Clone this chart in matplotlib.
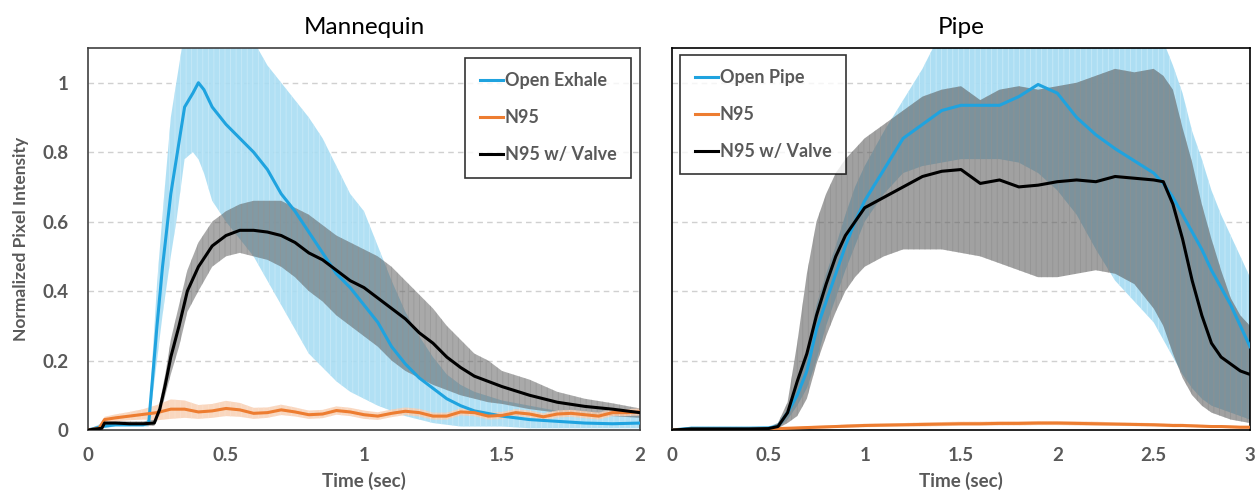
import numpy as np
import matplotlib
matplotlib.use("Agg")
import matplotlib.pyplot as plt
from matplotlib.ticker import FixedLocator

plt.rcParams['font.family'] = ['Lato', 'DejaVu Sans']
plt.rcParams['hatch.linewidth'] = 0.6

# ---------------- Mannequin (left) ----------------
t_open = [0, 0.05, 0.1, 0.15, 0.2, 0.22, 0.25, 0.27, 0.3, 0.32, 0.35, 0.38, 0.4, 0.42, 0.45,
          0.5, 0.55, 0.6, 0.65, 0.7, 0.75, 0.8, 0.85, 0.9, 0.95, 1.0, 1.05, 1.1, 1.15, 1.2,
          1.25, 1.3, 1.35, 1.4, 1.5, 1.6, 1.7, 1.8, 1.9, 2.0]
open_mean = [0, 0.01, 0.015, 0.015, 0.015, 0.02, 0.3, 0.47, 0.68, 0.78, 0.93, 0.97, 1.0, 0.98, 0.93,
             0.88, 0.84, 0.80, 0.75, 0.68, 0.63, 0.57, 0.51, 0.45, 0.41, 0.36, 0.31, 0.24, 0.19, 0.15,
             0.12, 0.09, 0.07, 0.055, 0.04, 0.03, 0.025, 0.02, 0.018, 0.02]
open_hi = [0, 0.02, 0.02, 0.02, 0.02, 0.03, 0.42, 0.62, 0.9, 1.0, 1.15, 1.15, 1.15, 1.15, 1.15,
           1.15, 1.15, 1.12, 1.05, 1.0, 0.95, 0.9, 0.84, 0.76, 0.68, 0.63, 0.53, 0.43, 0.34, 0.27,
           0.21, 0.16, 0.13, 0.11, 0.085, 0.07, 0.055, 0.05, 0.045, 0.04]
open_lo = [0, 0.005, 0.01, 0.01, 0.01, 0.01, 0.2, 0.33, 0.5, 0.6, 0.78, 0.8, 0.78, 0.74, 0.66,
           0.6, 0.55, 0.5, 0.43, 0.36, 0.29, 0.22, 0.18, 0.14, 0.11, 0.09, 0.07, 0.055, 0.04, 0.03,
           0.02, 0.015, 0.01, 0.01, 0.01, 0.005, 0.005, 0.005, 0.005, 0.005]

t_valve = [0, 0.05, 0.06, 0.1, 0.15, 0.2, 0.24, 0.26, 0.28, 0.3, 0.33, 0.36, 0.4, 0.45, 0.5,
           0.55, 0.6, 0.65, 0.7, 0.75, 0.8, 0.85, 0.9, 0.95, 1.0, 1.05, 1.1, 1.15, 1.2, 1.25,
           1.3, 1.35, 1.4, 1.45, 1.5, 1.6, 1.7, 1.8, 1.9, 2.0]
valve_mean = [0, 0.005, 0.02, 0.02, 0.018, 0.018, 0.02, 0.06, 0.13, 0.21, 0.3, 0.4, 0.47, 0.53, 0.56,
              0.575, 0.575, 0.57, 0.56, 0.54, 0.51, 0.49, 0.46, 0.43, 0.41, 0.38, 0.35, 0.32, 0.28, 0.25,
              0.21, 0.18, 0.155, 0.14, 0.125, 0.1, 0.08, 0.068, 0.06, 0.05]
valve_hi = [0, 0.005, 0.025, 0.025, 0.025, 0.025, 0.03, 0.08, 0.16, 0.26, 0.36, 0.46, 0.54, 0.6, 0.63,
            0.65, 0.66, 0.66, 0.66, 0.64, 0.62, 0.59, 0.56, 0.54, 0.52, 0.5, 0.47, 0.43, 0.39, 0.35,
            0.3, 0.26, 0.22, 0.2, 0.17, 0.145, 0.11, 0.09, 0.077, 0.062]
valve_lo = [0, 0.005, 0.015, 0.015, 0.012, 0.012, 0.012, 0.04, 0.1, 0.16, 0.24, 0.34, 0.4, 0.47, 0.5,
            0.51, 0.5, 0.49, 0.47, 0.44, 0.4, 0.37, 0.33, 0.3, 0.27, 0.24, 0.2, 0.17, 0.15, 0.13,
            0.115, 0.1, 0.09, 0.08, 0.075, 0.06, 0.05, 0.045, 0.04, 0.035]

t_n95 = [0, 0.04, 0.06, 0.1, 0.15, 0.2, 0.25, 0.3, 0.35, 0.4, 0.45, 0.5, 0.55, 0.6, 0.65, 0.7,
         0.75, 0.8, 0.85, 0.9, 0.95, 1.0, 1.05, 1.1, 1.15, 1.2, 1.25, 1.3, 1.35, 1.4, 1.45, 1.5,
         1.55, 1.6, 1.65, 1.7, 1.75, 1.8, 1.85, 1.9, 1.95, 2.0]
n95_mean = [0, 0.005, 0.03, 0.035, 0.04, 0.045, 0.05, 0.06, 0.06, 0.052, 0.055, 0.062, 0.058, 0.048, 0.05, 0.058,
            0.052, 0.044, 0.046, 0.056, 0.052, 0.044, 0.04, 0.048, 0.054, 0.05, 0.04, 0.04, 0.052, 0.05, 0.04, 0.042,
            0.05, 0.046, 0.038, 0.046, 0.048, 0.044, 0.04, 0.05, 0.05, 0.052]
n95_sd = [0, 0.003, 0.008, 0.01, 0.012, 0.015, 0.022, 0.028, 0.025, 0.02, 0.02, 0.022, 0.02, 0.016, 0.015, 0.015,
          0.013, 0.012, 0.012, 0.012, 0.012, 0.012, 0.011, 0.011, 0.011, 0.011, 0.01, 0.01, 0.01, 0.01, 0.01, 0.01,
          0.01, 0.01, 0.01, 0.01, 0.01, 0.01, 0.01, 0.01, 0.01, 0.01]

# ---------------- Pipe (right) ----------------
t_pipe = [0, 0.1, 0.2, 0.3, 0.4, 0.5, 0.55, 0.6, 0.65, 0.7, 0.75, 0.8, 0.85, 0.9, 0.95, 1.0,
          1.1, 1.2, 1.3, 1.4, 1.5, 1.6, 1.7, 1.8, 1.9, 2.0, 2.1, 2.2, 2.3, 2.4, 2.5,
          2.55, 2.6, 2.65, 2.7, 2.75, 2.8, 2.85, 2.9, 2.95, 3.0]
pipe_mean = [0, 0.005, 0.005, 0.005, 0.005, 0.006, 0.01, 0.05, 0.1, 0.17, 0.29, 0.37, 0.45, 0.53, 0.6, 0.66,
             0.75, 0.84, 0.88, 0.92, 0.935, 0.935, 0.935, 0.96, 0.995, 0.97, 0.9, 0.85, 0.81, 0.775, 0.74,
             0.71, 0.67, 0.62, 0.57, 0.52, 0.46, 0.41, 0.36, 0.3, 0.24]
pipe_hi = [0, 0.01, 0.01, 0.01, 0.01, 0.01, 0.02, 0.06, 0.14, 0.22, 0.36, 0.45, 0.53, 0.62, 0.7, 0.76,
           0.86, 0.95, 1.04, 1.15, 1.15, 1.15, 1.15, 1.15, 1.15, 1.15, 1.15, 1.15, 1.15, 1.15, 1.15,
           1.12, 1.05, 0.97, 0.86, 0.78, 0.69, 0.62, 0.56, 0.5, 0.44]
pipe_lo = [0, 0.0, 0.0, 0.0, 0.0, 0.002, 0.005, 0.03, 0.07, 0.12, 0.2, 0.3, 0.38, 0.46, 0.53, 0.6,
           0.68, 0.74, 0.76, 0.77, 0.78, 0.78, 0.78, 0.77, 0.74, 0.69, 0.62, 0.52, 0.43, 0.37, 0.31,
           0.26, 0.21, 0.16, 0.12, 0.09, 0.07, 0.06, 0.05, 0.04, 0.03]

pvalve_mean = [0, 0.003, 0.003, 0.003, 0.003, 0.004, 0.01, 0.05, 0.14, 0.22, 0.33, 0.42, 0.5, 0.56, 0.6, 0.64,
               0.67, 0.7, 0.73, 0.745, 0.75, 0.71, 0.72, 0.7, 0.705, 0.715, 0.72, 0.715, 0.73, 0.725, 0.72,
               0.715, 0.65, 0.55, 0.43, 0.33, 0.25, 0.21, 0.19, 0.17, 0.16]
pvalve_hi = [0, 0.005, 0.005, 0.005, 0.005, 0.006, 0.02, 0.08, 0.25, 0.45, 0.6, 0.68, 0.74, 0.78, 0.81, 0.84,
             0.88, 0.92, 0.96, 0.98, 0.99, 0.95, 0.98, 0.99, 0.98, 0.99, 1.0, 1.02, 1.04, 1.03, 1.04,
             1.02, 0.98, 0.87, 0.77, 0.65, 0.55, 0.46, 0.38, 0.33, 0.3]
pvalve_lo = [0, 0.001, 0.001, 0.001, 0.001, 0.002, 0.005, 0.02, 0.04, 0.09, 0.19, 0.27, 0.34, 0.4, 0.44, 0.47,
             0.5, 0.52, 0.52, 0.52, 0.51, 0.5, 0.48, 0.46, 0.44, 0.44, 0.45, 0.46, 0.45, 0.42, 0.35,
             0.3, 0.22, 0.15, 0.1, 0.07, 0.05, 0.04, 0.03, 0.025, 0.02]

pn95_mean = [0, 0.002, 0.002, 0.002, 0.002, 0.003, 0.004, 0.005, 0.006, 0.007, 0.008, 0.009, 0.01, 0.011, 0.012, 0.013,
             0.014, 0.015, 0.016, 0.017, 0.018, 0.018, 0.019, 0.019, 0.02, 0.02, 0.019, 0.018, 0.017, 0.016, 0.015,
             0.014, 0.013, 0.013, 0.012, 0.011, 0.01, 0.01, 0.009, 0.008, 0.008]
pn95_sd = [0, 0.001, 0.001, 0.001, 0.001, 0.002, 0.003, 0.003, 0.003, 0.004, 0.004, 0.004, 0.004, 0.005, 0.005, 0.005,
           0.005, 0.005, 0.006, 0.006, 0.006, 0.006, 0.006, 0.006, 0.006, 0.006, 0.006, 0.006, 0.005, 0.005, 0.005,
           0.005, 0.005, 0.005, 0.004, 0.004, 0.004, 0.004, 0.004, 0.004, 0.004]

BLUE = '#1FA3DF'
BLUE_BAND = '#A9DDF3'
ORANGE = '#ED7D31'
ORANGE_BAND = '#F8CDB0'
GRAY_BAND = '#555555'
TXT = '#595959'

fig = plt.figure(figsize=(12.56, 4.96), dpi=100)
ax1 = fig.add_axes([88/1256, 66/496, 552/1256, 382/496])
ax2 = fig.add_axes([672/1256, 66/496, 578/1256, 382/496])


def band(ax, t, lo, hi, face, edge, alpha):
    ax.fill_between(t, lo, hi, facecolor=face, edgecolor=edge, alpha=alpha,
                    hatch='|||', linewidth=0, zorder=2)


# left panel
band(ax1, t_open, open_lo, open_hi, BLUE_BAND, '#C9EAF8', 0.9)
band(ax1, t_valve, valve_lo, valve_hi, GRAY_BAND, '#8A8A8A', 0.5)
n95_m = np.array(n95_mean)
n95_s = np.array(n95_sd)
band(ax1, t_n95, n95_m - n95_s, n95_m + n95_s, ORANGE_BAND, '#FBE0CC', 0.8)
ax1.plot(t_open, open_mean, color=BLUE, lw=2.2, label='Open Exhale', zorder=4)
ax1.plot(t_n95, n95_mean, color=ORANGE, lw=2.2, label='N95', zorder=4)
ax1.plot(t_valve, valve_mean, color='black', lw=2.2, label='N95 w/ Valve', zorder=5)

# right panel
band(ax2, t_pipe, pipe_lo, pipe_hi, BLUE_BAND, '#C9EAF8', 0.95)
band(ax2, t_pipe, pvalve_lo, pvalve_hi, GRAY_BAND, '#8A8A8A', 0.55)
pm = np.array(pn95_mean)
ps = np.array(pn95_sd)
band(ax2, t_pipe, pm - ps, pm + ps, ORANGE_BAND, '#FBE0CC', 0.8)
ax2.plot(t_pipe, pipe_mean, color=BLUE, lw=2.2, label='Open Pipe', zorder=4)
ax2.plot(t_pipe, pn95_mean, color=ORANGE, lw=2.2, label='N95', zorder=4)
ax2.plot(t_pipe, pvalve_mean, color='black', lw=2.2, label='N95 w/ Valve', zorder=5)

for ax, xmax, title, edge in [(ax1, 2, 'Mannequin', '#404040'), (ax2, 3, 'Pipe', 'black')]:
    ax.set_xlim(0, xmax)
    ax.set_ylim(0, 1.1)
    ax.set_xticks(np.arange(0, xmax + 0.01, 0.5))
    ax.set_xticklabels(['0', '0.5', '1', '1.5', '2', '2.5', '3'][:2 * xmax + 1])
    ax.yaxis.set_major_locator(FixedLocator([0, 0.2, 0.4, 0.6, 0.8, 1.0]))
    for yv in [0.2, 0.4, 0.6, 0.8, 1.0]:
        ax.axhline(yv, color='#D0D0D0', lw=1, ls=(0, (4, 3)), zorder=1)
    ax.tick_params(length=0, labelsize=13.5, labelcolor=TXT)
    ax.tick_params(axis='x', pad=12)
    ax.tick_params(axis='y', pad=14)
    for lab in ax.get_xticklabels() + ax.get_yticklabels():
        lab.set_fontweight('bold')
    for s in ax.spines.values():
        s.set_color(edge)
        s.set_linewidth(1.2)
    ax.set_title(title, fontsize=17.5, pad=10, color='black')
    ax.set_xlabel('Time (sec)', fontsize=13.5, fontweight='bold', color=TXT, labelpad=6)

ax1.set_yticklabels(['0', '0.2', '0.4', '0.6', '0.8', '1'])
ax2.set_yticklabels([])
ax1.set_ylabel('Normalized Pixel Intensity', fontsize=12.5, fontweight='bold', color=TXT, labelpad=10)

leg_kw = dict(frameon=True, fancybox=False, handlelength=1.3, handletextpad=0.1,
              labelspacing=1.1, borderpad=0.8, borderaxespad=0,
              prop={'weight': 'bold', 'size': 13})
l1 = ax1.legend(loc='upper right', bbox_to_anchor=(0.984, 0.974), **leg_kw)
l2 = ax2.legend(loc='upper left', bbox_to_anchor=(0.014, 0.982), **leg_kw)
for lg in (l1, l2):
    lg.get_frame().set_edgecolor('black')
    lg.get_frame().set_linewidth(1.2)
    for txt in lg.get_texts():
        txt.set_color(TXT)

fig.savefig('out.png', dpi=100)
